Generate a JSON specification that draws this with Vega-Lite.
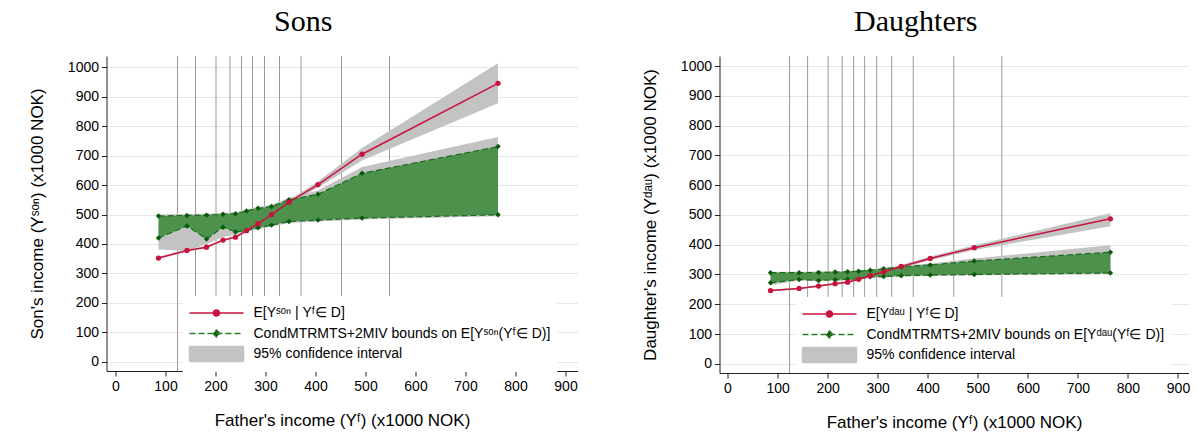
{
  "$schema": "https://vega.github.io/schema/vega-lite/v6.json",
  "background": "white",
  "padding": {"left": 28.5, "top": 6, "right": 5, "bottom": 5},
  "spacing": 64,
  "datasets": {
    "cuts": [{"x": 124}, {"x": 160}, {"x": 201}, {"x": 229}, {"x": 252}, {"x": 274}, {"x": 298}, {"x": 328}, {"x": 371}, {"x": 452}, {"x": 548}],
    "sons": [
      {"x": 86, "mean": 352, "mlo": 348, "mhi": 356, "lb": 420, "ub": 495, "lblo": 381, "ubhi": 500},
      {"x": 143, "mean": 378, "mlo": 374, "mhi": 382, "lb": 461, "ub": 497, "lblo": 377, "ubhi": 502},
      {"x": 182, "mean": 389, "mlo": 385, "mhi": 393, "lb": 417, "ub": 498, "lblo": 400, "ubhi": 503},
      {"x": 215, "mean": 413, "mlo": 409, "mhi": 417, "lb": 457, "ub": 501, "lblo": 424, "ubhi": 506},
      {"x": 240, "mean": 423, "mlo": 419, "mhi": 427, "lb": 441, "ub": 503, "lblo": 432, "ubhi": 508},
      {"x": 262, "mean": 445, "mlo": 441, "mhi": 449, "lb": 446, "ub": 512, "lblo": 441, "ubhi": 517},
      {"x": 285, "mean": 469, "mlo": 464, "mhi": 474, "lb": 455, "ub": 521, "lblo": 450, "ubhi": 526},
      {"x": 312, "mean": 500, "mlo": 495, "mhi": 505, "lb": 464, "ub": 527, "lblo": 459, "ubhi": 533},
      {"x": 347, "mean": 542, "mlo": 535, "mhi": 549, "lb": 476, "ub": 550, "lblo": 471, "ubhi": 557},
      {"x": 405, "mean": 602, "mlo": 592, "mhi": 612, "lb": 481, "ub": 569, "lblo": 476, "ubhi": 582},
      {"x": 493, "mean": 705, "mlo": 684, "mhi": 726, "lb": 488, "ub": 640, "lblo": 483, "ubhi": 662},
      {"x": 765, "mean": 946, "mlo": 878, "mhi": 1014, "lb": 499, "ub": 731, "lblo": 494, "ubhi": 764}
    ],
    "daughters": [
      {"x": 86, "mean": 246, "mlo": 243, "mhi": 249, "lb": 272, "ub": 306, "lblo": 264, "ubhi": 309},
      {"x": 143, "mean": 253, "mlo": 250, "mhi": 256, "lb": 283, "ub": 306, "lblo": 280, "ubhi": 309},
      {"x": 182, "mean": 261, "mlo": 258, "mhi": 264, "lb": 280, "ub": 307, "lblo": 277, "ubhi": 310},
      {"x": 215, "mean": 269, "mlo": 266, "mhi": 272, "lb": 282, "ub": 308, "lblo": 279, "ubhi": 311},
      {"x": 240, "mean": 274, "mlo": 271, "mhi": 277, "lb": 284, "ub": 309, "lblo": 281, "ubhi": 312},
      {"x": 262, "mean": 284, "mlo": 281, "mhi": 287, "lb": 285, "ub": 311, "lblo": 282, "ubhi": 314},
      {"x": 285, "mean": 296, "mlo": 292, "mhi": 300, "lb": 292, "ub": 314, "lblo": 289, "ubhi": 317},
      {"x": 312, "mean": 309, "mlo": 305, "mhi": 313, "lb": 293, "ub": 319, "lblo": 290, "ubhi": 322},
      {"x": 347, "mean": 327, "mlo": 322, "mhi": 332, "lb": 296, "ub": 326, "lblo": 293, "ubhi": 330},
      {"x": 405, "mean": 354, "mlo": 348, "mhi": 360, "lb": 298, "ub": 332, "lblo": 295, "ubhi": 337},
      {"x": 493, "mean": 390, "mlo": 382, "mhi": 398, "lb": 300, "ub": 345, "lblo": 297, "ubhi": 354},
      {"x": 765, "mean": 487, "mlo": 462, "mhi": 506, "lb": 305, "ub": 375, "lblo": 302, "ubhi": 398}
    ],
    "legend_s": [{"s": "E[Yˢᵒⁿ | Yᶠ∈ D]"}, {"s": "CondMTRMTS+2MIV bounds on E[Yˢᵒⁿ(Yᶠ∈ D)]"}, {"s": "95% confidence interval"}],
    "legend_d": [{"s": "E[Yᵈᵃᵘ | Yᶠ∈ D]"}, {"s": "CondMTRMTS+2MIV bounds on E[Yᵈᵃᵘ(Yᶠ∈ D)]"}, {"s": "95% confidence interval"}]
  },
  "config": {
    "view": {"stroke": null},
    "font": "Liberation Sans",
    "axis": {"labelFont": "Liberation Sans", "labelFontSize": 14, "labelColor": "#000", "titleFont": "Liberation Sans", "titleFontSize": 17, "titleFontWeight": "normal", "titleColor": "#000", "domainColor": "#222", "tickColor": "#222", "tickSize": 5, "gridColor": "#e6e6e6", "gridWidth": 1, "labelPadding": 3, "labelFlush": false, "labelOverlap": false},
    "axisX": {"grid": false, "titlePadding": 19},
    "axisY": {"grid": true, "titlePadding": 20.5},
    "title": {"font": "Liberation Serif", "fontSize": 30, "fontWeight": "normal", "color": "#000", "anchor": "middle", "frame": "bounds", "offset": 19},
    "legend": {"orient": "none", "padding": 6, "fillColor": "white", "strokeColor": "white", "labelFont": "Liberation Sans", "labelFontSize": 14, "labelColor": "#000", "labelOffset": 43, "rowPadding": 2.5, "symbolSize": 400, "symbolStrokeWidth": 1.5, "labelLimit": 600, "cornerRadius": 0}
  },
  "resolve": {"scale": {"x": "independent", "y": "independent", "fill": "independent", "stroke": "independent", "shape": "independent", "strokeDash": "independent"}, "legend": {"fill": "independent", "stroke": "independent", "shape": "independent", "strokeDash": "independent"}},
  "hconcat": [
    {
      "width": 471,
      "height": 315,
      "title": "Sons",
      "encoding": {"x": {"field": "x", "type": "quantitative", "title": "Father's income (Yᶠ) (x1000 NOK)", "scale": {"domain": [-18, 924], "nice": false, "zero": false}, "axis": {"values": [0, 100, 200, 300, 400, 500, 600, 700, 800, 900], "format": "d"}}},
      "layer": [
        {"data": {"name": "cuts"}, "mark": {"type": "rule", "color": "#9a9a9a", "strokeWidth": 1}},
        {"data": {"name": "sons"}, "mark": {"type": "area", "color": "#c3c3c3"}, "encoding": {"y": {"field": "lblo", "type": "quantitative", "title": "Son's income (Yˢᵒⁿ) (x1000 NOK)", "scale": {"domain": [-32, 1039], "nice": false, "zero": false}, "axis": {"values": [0, 100, 200, 300, 400, 500, 600, 700, 800, 900, 1000], "format": "d"}}, "y2": {"field": "ubhi"}}},
        {"data": {"name": "sons"}, "mark": {"type": "area", "color": "#c3c3c3"}, "encoding": {"y": {"field": "mlo", "type": "quantitative", "title": "Son's income (Yˢᵒⁿ) (x1000 NOK)", "scale": {"domain": [-32, 1039], "nice": false, "zero": false}, "axis": {"values": [0, 100, 200, 300, 400, 500, 600, 700, 800, 900, 1000], "format": "d"}}, "y2": {"field": "mhi"}}},
        {"data": {"name": "sons"}, "mark": {"type": "area", "color": "#4c914c", "opacity": 1}, "encoding": {"y": {"field": "lb", "type": "quantitative", "title": "Son's income (Yˢᵒⁿ) (x1000 NOK)", "scale": {"domain": [-32, 1039], "nice": false, "zero": false}, "axis": {"values": [0, 100, 200, 300, 400, 500, 600, 700, 800, 900, 1000], "format": "d"}}, "y2": {"field": "ub"}}},
        {"data": {"name": "sons"}, "mark": {"type": "line", "color": "#1e6b1e", "strokeWidth": 1.2, "strokeDash": [6, 3], "point": {"filled": true, "shape": "diamond", "size": 30, "color": "#0a5a0a"}}, "encoding": {"y": {"field": "lb", "type": "quantitative", "title": "Son's income (Yˢᵒⁿ) (x1000 NOK)", "scale": {"domain": [-32, 1039], "nice": false, "zero": false}, "axis": {"values": [0, 100, 200, 300, 400, 500, 600, 700, 800, 900, 1000], "format": "d"}}}},
        {"data": {"name": "sons"}, "mark": {"type": "line", "color": "#1e6b1e", "strokeWidth": 1.2, "strokeDash": [6, 3], "point": {"filled": true, "shape": "diamond", "size": 30, "color": "#0a5a0a"}}, "encoding": {"y": {"field": "ub", "type": "quantitative", "title": "Son's income (Yˢᵒⁿ) (x1000 NOK)", "scale": {"domain": [-32, 1039], "nice": false, "zero": false}, "axis": {"values": [0, 100, 200, 300, 400, 500, 600, 700, 800, 900, 1000], "format": "d"}}}},
        {"data": {"name": "sons"}, "mark": {"type": "line", "color": "#c9123c", "strokeWidth": 1.5, "point": {"filled": true, "size": 28, "color": "#c9123c"}}, "encoding": {"y": {"field": "mean", "type": "quantitative", "title": "Son's income (Yˢᵒⁿ) (x1000 NOK)", "scale": {"domain": [-32, 1039], "nice": false, "zero": false}, "axis": {"values": [0, 100, 200, 300, 400, 500, 600, 700, 800, 900, 1000], "format": "d"}}}},
        {"data": {"name": "legend_s"}, "mark": {"type": "point", "filled": true, "opacity": 0, "size": 400, "strokeWidth": 1.5},
         "encoding": {
           "x": {"value": 0},
           "fill": {"field": "s", "type": "nominal", "scale": {"domain": ["E[Yˢᵒⁿ | Yᶠ∈ D]", "CondMTRMTS+2MIV bounds on E[Yˢᵒⁿ(Yᶠ∈ D)]", "95% confidence interval"], "range": ["#c9123c", "#0a5a0a", "#c3c3c3"]}, "legend": {"title": null, "legendX": 76, "legendY": 240, "encode": {"symbols": {"update": {"opacity": {"value": 1}}}}}},
           "stroke": {"field": "s", "type": "nominal", "scale": {"domain": ["E[Yˢᵒⁿ | Yᶠ∈ D]", "CondMTRMTS+2MIV bounds on E[Yˢᵒⁿ(Yᶠ∈ D)]", "95% confidence interval"], "range": ["#c9123c", "#2e7d2e", "#c3c3c3"]}, "legend": {"title": null, "legendX": 76, "legendY": 240, "encode": {"symbols": {"update": {"opacity": {"value": 1}}}}}},
           "shape": {"field": "s", "type": "nominal", "scale": {"domain": ["E[Yˢᵒⁿ | Yᶠ∈ D]", "CondMTRMTS+2MIV bounds on E[Yˢᵒⁿ(Yᶠ∈ D)]", "95% confidence interval"], "range": ["M-1,0L4.4,0M1.4,0A0.3,0.3,0,1,1,2,0A0.3,0.3,0,1,1,1.4,0Z", "M-1,0L4.4,0M1.7,-0.35L2.05,0L1.7,0.35L1.35,0Z", "M-1,-0.75L4.4,-0.75L4.4,0.75L-1,0.75Z"]}, "legend": {"title": null, "legendX": 76, "legendY": 240, "encode": {"symbols": {"update": {"opacity": {"value": 1}}}}}},
           "strokeDash": {"field": "s", "type": "nominal", "scale": {"domain": ["E[Yˢᵒⁿ | Yᶠ∈ D]", "CondMTRMTS+2MIV bounds on E[Yˢᵒⁿ(Yᶠ∈ D)]", "95% confidence interval"], "range": [[1, 0], [6, 3], [1, 0]]}, "legend": {"title": null, "legendX": 76, "legendY": 240, "encode": {"symbols": {"update": {"opacity": {"value": 1}}}}}}
         }}
      ]
    },
    {
      "width": 469,
      "height": 317,
      "title": "Daughters",
      "encoding": {"x": {"field": "x", "type": "quantitative", "title": "Father's income (Yᶠ) (x1000 NOK)", "scale": {"domain": [-16, 921], "nice": false, "zero": false}, "axis": {"values": [0, 100, 200, 300, 400, 500, 600, 700, 800, 900], "format": "d"}}},
      "layer": [
        {"data": {"name": "cuts"}, "mark": {"type": "rule", "color": "#9a9a9a", "strokeWidth": 1}},
        {"data": {"name": "daughters"}, "mark": {"type": "area", "color": "#c3c3c3"}, "encoding": {"y": {"field": "lblo", "type": "quantitative", "title": "Daughter's income (Yᵈᵃᵘ) (x1000 NOK)", "scale": {"domain": [-31, 1034], "nice": false, "zero": false}, "axis": {"values": [0, 100, 200, 300, 400, 500, 600, 700, 800, 900, 1000], "format": "d"}}, "y2": {"field": "ubhi"}}},
        {"data": {"name": "daughters"}, "mark": {"type": "area", "color": "#c3c3c3"}, "encoding": {"y": {"field": "mlo", "type": "quantitative", "title": "Daughter's income (Yᵈᵃᵘ) (x1000 NOK)", "scale": {"domain": [-31, 1034], "nice": false, "zero": false}, "axis": {"values": [0, 100, 200, 300, 400, 500, 600, 700, 800, 900, 1000], "format": "d"}}, "y2": {"field": "mhi"}}},
        {"data": {"name": "daughters"}, "mark": {"type": "area", "color": "#4c914c", "opacity": 1}, "encoding": {"y": {"field": "lb", "type": "quantitative", "title": "Daughter's income (Yᵈᵃᵘ) (x1000 NOK)", "scale": {"domain": [-31, 1034], "nice": false, "zero": false}, "axis": {"values": [0, 100, 200, 300, 400, 500, 600, 700, 800, 900, 1000], "format": "d"}}, "y2": {"field": "ub"}}},
        {"data": {"name": "daughters"}, "mark": {"type": "line", "color": "#1e6b1e", "strokeWidth": 1.2, "strokeDash": [6, 3], "point": {"filled": true, "shape": "diamond", "size": 30, "color": "#0a5a0a"}}, "encoding": {"y": {"field": "lb", "type": "quantitative", "title": "Daughter's income (Yᵈᵃᵘ) (x1000 NOK)", "scale": {"domain": [-31, 1034], "nice": false, "zero": false}, "axis": {"values": [0, 100, 200, 300, 400, 500, 600, 700, 800, 900, 1000], "format": "d"}}}},
        {"data": {"name": "daughters"}, "mark": {"type": "line", "color": "#1e6b1e", "strokeWidth": 1.2, "strokeDash": [6, 3], "point": {"filled": true, "shape": "diamond", "size": 30, "color": "#0a5a0a"}}, "encoding": {"y": {"field": "ub", "type": "quantitative", "title": "Daughter's income (Yᵈᵃᵘ) (x1000 NOK)", "scale": {"domain": [-31, 1034], "nice": false, "zero": false}, "axis": {"values": [0, 100, 200, 300, 400, 500, 600, 700, 800, 900, 1000], "format": "d"}}}},
        {"data": {"name": "daughters"}, "mark": {"type": "line", "color": "#c9123c", "strokeWidth": 1.5, "point": {"filled": true, "size": 28, "color": "#c9123c"}}, "encoding": {"y": {"field": "mean", "type": "quantitative", "title": "Daughter's income (Yᵈᵃᵘ) (x1000 NOK)", "scale": {"domain": [-31, 1034], "nice": false, "zero": false}, "axis": {"values": [0, 100, 200, 300, 400, 500, 600, 700, 800, 900, 1000], "format": "d"}}}},
        {"data": {"name": "legend_d"}, "mark": {"type": "point", "filled": true, "opacity": 0, "size": 400, "strokeWidth": 1.5},
         "encoding": {
           "x": {"value": 0},
           "fill": {"field": "s", "type": "nominal", "scale": {"domain": ["E[Yᵈᵃᵘ | Yᶠ∈ D]", "CondMTRMTS+2MIV bounds on E[Yᵈᵃᵘ(Yᶠ∈ D)]", "95% confidence interval"], "range": ["#c9123c", "#0a5a0a", "#c3c3c3"]}, "legend": {"title": null, "legendX": 76, "legendY": 241, "encode": {"symbols": {"update": {"opacity": {"value": 1}}}}}},
           "stroke": {"field": "s", "type": "nominal", "scale": {"domain": ["E[Yᵈᵃᵘ | Yᶠ∈ D]", "CondMTRMTS+2MIV bounds on E[Yᵈᵃᵘ(Yᶠ∈ D)]", "95% confidence interval"], "range": ["#c9123c", "#2e7d2e", "#c3c3c3"]}, "legend": {"title": null, "legendX": 76, "legendY": 241, "encode": {"symbols": {"update": {"opacity": {"value": 1}}}}}},
           "shape": {"field": "s", "type": "nominal", "scale": {"domain": ["E[Yᵈᵃᵘ | Yᶠ∈ D]", "CondMTRMTS+2MIV bounds on E[Yᵈᵃᵘ(Yᶠ∈ D)]", "95% confidence interval"], "range": ["M-1,0L4.4,0M1.4,0A0.3,0.3,0,1,1,2,0A0.3,0.3,0,1,1,1.4,0Z", "M-1,0L4.4,0M1.7,-0.35L2.05,0L1.7,0.35L1.35,0Z", "M-1,-0.75L4.4,-0.75L4.4,0.75L-1,0.75Z"]}, "legend": {"title": null, "legendX": 76, "legendY": 241, "encode": {"symbols": {"update": {"opacity": {"value": 1}}}}}},
           "strokeDash": {"field": "s", "type": "nominal", "scale": {"domain": ["E[Yᵈᵃᵘ | Yᶠ∈ D]", "CondMTRMTS+2MIV bounds on E[Yᵈᵃᵘ(Yᶠ∈ D)]", "95% confidence interval"], "range": [[1, 0], [6, 3], [1, 0]]}, "legend": {"title": null, "legendX": 76, "legendY": 241, "encode": {"symbols": {"update": {"opacity": {"value": 1}}}}}}
         }}
      ]
    }
  ]
}
